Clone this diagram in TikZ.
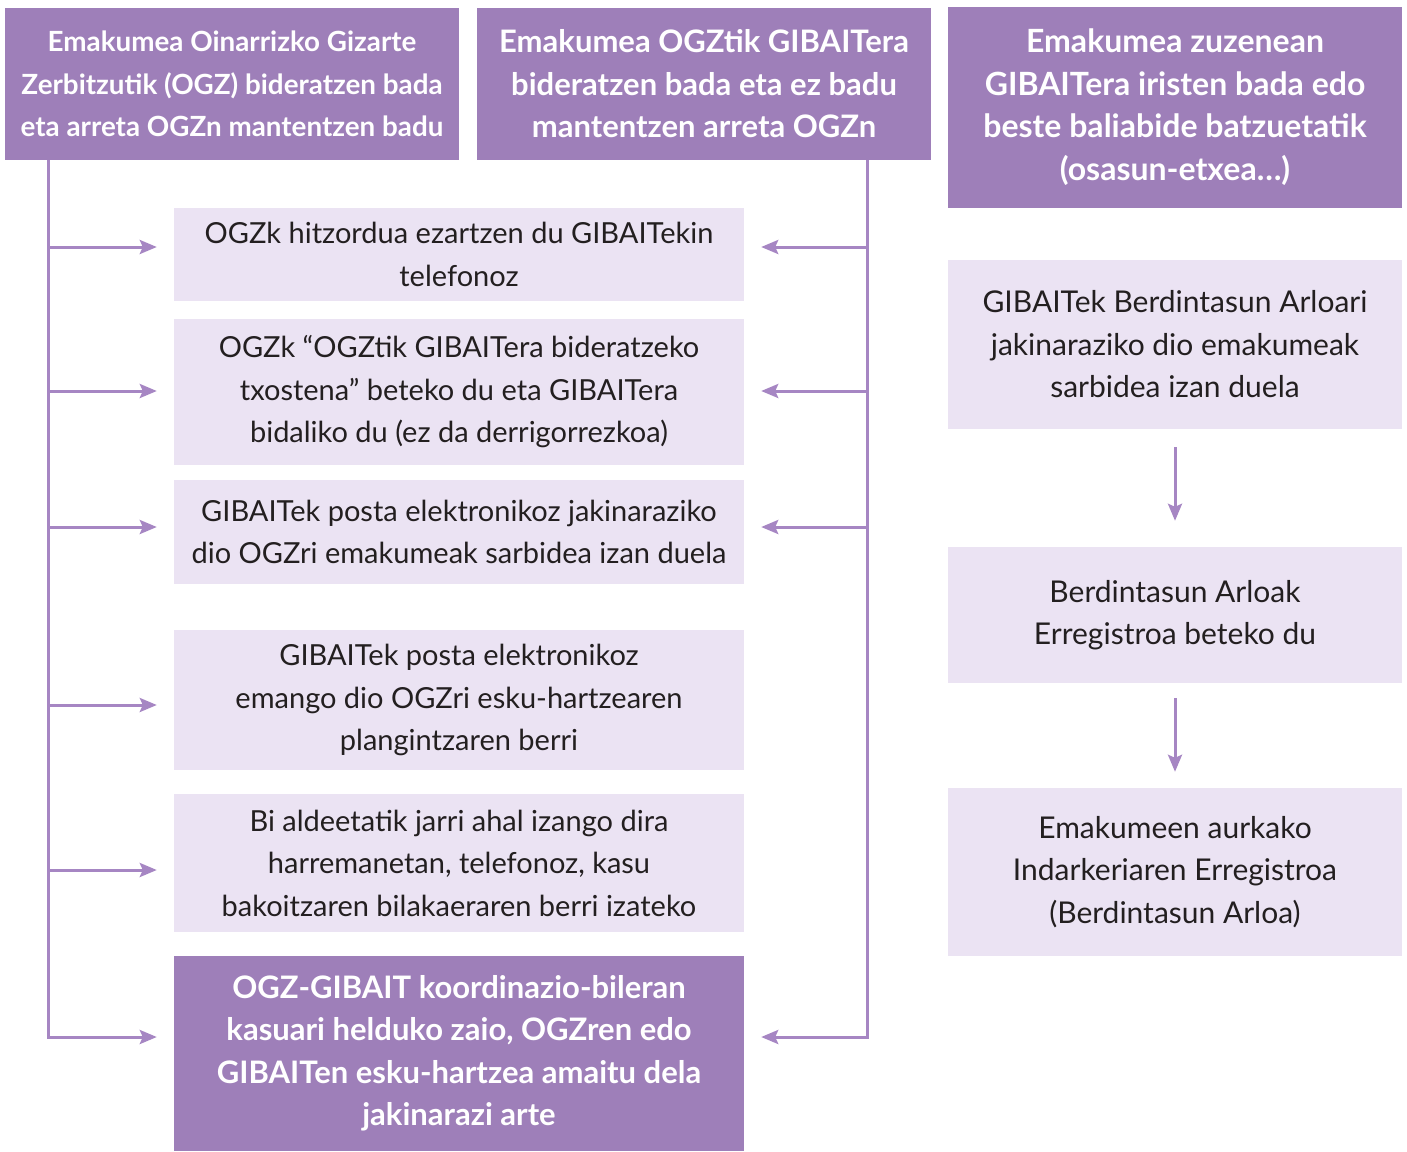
\documentclass[tikz,border=0pt]{standalone}
\usepackage{fontspec}
\setmainfont{Lato}
\usetikzlibrary{arrows.meta}
\definecolor{dark}{HTML}{9E7FB9}
\definecolor{light}{HTML}{EBE3F3}
\definecolor{lineC}{HTML}{A686C3}
\definecolor{txt}{HTML}{231F20}
\begin{document}
\begin{tikzpicture}[x=1pt,y=-1pt,
 hdr/.style={fill=dark,text=white,font=\fontsize{27.8}{42.5}\selectfont\bfseries,align=center,inner sep=0pt},
 box/.style={fill=light,text=txt,font=\fontsize{29}{42.5}\selectfont,align=center,inner sep=0pt},
 rbox/.style={box,font=\fontsize{30}{42.5}\selectfont},
 dbox/.style={fill=dark,text=white,font=\fontsize{31}{42.5}\selectfont\bfseries,align=center,inner sep=0pt},
 conn/.style={lineC,line width=3pt},
 arr/.style={conn,-{Stealth[length=17pt,width=14pt,inset=3pt]}}]
\useasboundingbox (0,0) rectangle (1407,1151);
% headers
\node[hdr,minimum width=454,minimum height=152] (h1) at (232,84) {Emakumea Oinarrizko Gizarte\\Zerbitzutik (OGZ) bideratzen bada\\eta arreta OGZn mantentzen badu};
\node[hdr,font=\fontsize{31}{42.5}\selectfont\bfseries,minimum width=454,minimum height=152] (h2) at (704,84) {Emakumea OGZtik GIBAITera\\bideratzen bada eta ez badu\\mantentzen arreta OGZn};
\node[hdr,font=\fontsize{32}{42.5}\selectfont\bfseries,minimum width=454,minimum height=201] (h3) at (1175,107) {Emakumea zuzenean\\GIBAITera iristen bada edo\\beste baliabide batzuetatik\\(osasun-etxea\dots)};
% left column
\node[box,minimum width=570,minimum height=93] (b1) at (459,254.5) {OGZk hitzordua ezartzen du GIBAITekin\\telefonoz};
\node[box,minimum width=570,minimum height=146] (b2) at (459,392) {OGZk “OGZtik GIBAITera bideratzeko\\txostena” beteko du eta GIBAITera\\bidaliko du (ez da derrigorrezkoa)};
\node[box,minimum width=570,minimum height=104] (b3) at (459,532) {GIBAITek posta elektronikoz jakinaraziko\\dio OGZri emakumeak sarbidea izan duela};
\node[box,minimum width=570,minimum height=140] (b4) at (459,700) {GIBAITek posta elektronikoz\\emango dio OGZri esku-hartzearen\\plangintzaren berri};
\node[box,minimum width=570,minimum height=138] (b5) at (459,863) {Bi aldeetatik jarri ahal izango dira\\harremanetan, telefonoz, kasu\\bakoitzaren bilakaeraren berri izateko};
\node[dbox,minimum width=570,minimum height=195] (b6) at (459,1053.5) {OGZ-GIBAIT koordinazio-bileran\\kasuari helduko zaio, OGZren edo\\GIBAITen esku-hartzea amaitu dela\\jakinarazi arte};
% right column
\node[rbox,minimum width=454,minimum height=169] (r1) at (1175,344.5) {GIBAITek Berdintasun Arloari\\jakinaraziko dio emakumeak\\sarbidea izan duela};
\node[rbox,minimum width=454,minimum height=136] (r2) at (1175,615) {Berdintasun Arloak\\Erregistroa beteko du};
\node[rbox,minimum width=454,minimum height=168] (r3) at (1175,872) {Emakumeen aurkako\\Indarkeriaren Erregistroa\\(Berdintasun Arloa)};
% left connectors
\draw[arr] ([xshift=44pt]h1.south west) |- ([xshift=-17pt,yshift=16.5pt]b6.west);
\coordinate (lx) at ([xshift=44pt]h1.south west);
\draw[arr] (lx |- 0,247) -- ([xshift=-17pt,yshift=7.5pt]b1.west);
\draw[arr] (lx |- 0,391) -- ([xshift=-17pt,yshift=1pt]b2.west);
\draw[arr] (lx |- 0,527) -- ([xshift=-17pt,yshift=5pt]b3.west);
\draw[arr] (lx |- 0,705) -- ([xshift=-17pt,yshift=-5pt]b4.west);
\draw[arr] (lx |- 0,870) -- ([xshift=-17pt,yshift=-7pt]b5.west);
% right connectors
\coordinate (rx) at ([xshift=-64pt]h2.south east);
\draw[arr] (rx) |- ([xshift=17pt,yshift=16.5pt]b6.east);
\draw[arr] (rx |- 0,247) -- ([xshift=17pt,yshift=7.5pt]b1.east);
\draw[arr] (rx |- 0,391) -- ([xshift=17pt,yshift=1pt]b2.east);
\draw[arr] (rx |- 0,527) -- ([xshift=17pt,yshift=5pt]b3.east);
% right column arrows
\draw[arr] ([yshift=-18pt]r1.south) -- ([yshift=26pt]r2.north);
\draw[arr] ([yshift=-15pt]r2.south) -- ([yshift=16pt]r3.north);
\end{tikzpicture}
\end{document}
